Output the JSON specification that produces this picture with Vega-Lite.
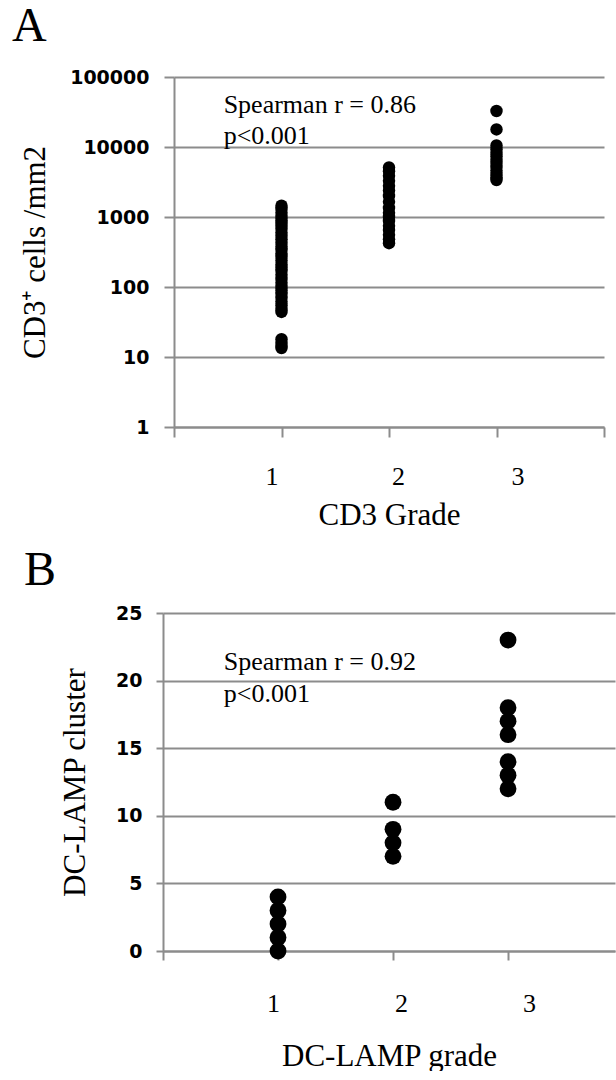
{
  "$schema": "https://vega.github.io/schema/vega-lite/v6.json",
  "background": "white",
  "padding": {"left": 12, "top": 3, "right": 0, "bottom": 0},
  "config": {
    "view": {"stroke": null},
    "axis": {
      "domainColor": "#8c8c8c", "domainWidth": 2,
      "tickColor": "#8c8c8c", "tickWidth": 2,
      "gridColor": "#8c8c8c", "gridWidth": 2,
      "labelColor": "black", "titleColor": "black",
      "labelOverlap": false, "labelFlush": false,
      "titleFont": "Liberation Serif", "titleFontWeight": "normal", "titleFontSize": 31
    }
  },
  "datasets": {
    "cd3": [
      {"grade": 1, "cells": 1450}, {"grade": 1, "cells": 1300}, {"grade": 1, "cells": 1150}, {"grade": 1, "cells": 1000},
      {"grade": 1, "cells": 900}, {"grade": 1, "cells": 820}, {"grade": 1, "cells": 750}, {"grade": 1, "cells": 680},
      {"grade": 1, "cells": 600}, {"grade": 1, "cells": 540}, {"grade": 1, "cells": 480}, {"grade": 1, "cells": 430},
      {"grade": 1, "cells": 380}, {"grade": 1, "cells": 340}, {"grade": 1, "cells": 300}, {"grade": 1, "cells": 270},
      {"grade": 1, "cells": 240}, {"grade": 1, "cells": 210}, {"grade": 1, "cells": 190}, {"grade": 1, "cells": 170},
      {"grade": 1, "cells": 150}, {"grade": 1, "cells": 130}, {"grade": 1, "cells": 115}, {"grade": 1, "cells": 100},
      {"grade": 1, "cells": 90}, {"grade": 1, "cells": 80}, {"grade": 1, "cells": 70}, {"grade": 1, "cells": 62},
      {"grade": 1, "cells": 55}, {"grade": 1, "cells": 49}, {"grade": 1, "cells": 44},
      {"grade": 1, "cells": 18}, {"grade": 1, "cells": 16}, {"grade": 1, "cells": 14.5}, {"grade": 1, "cells": 13.4},
      {"grade": 2, "cells": 5100}, {"grade": 2, "cells": 4500}, {"grade": 2, "cells": 3900}, {"grade": 2, "cells": 3300},
      {"grade": 2, "cells": 2800}, {"grade": 2, "cells": 2400}, {"grade": 2, "cells": 2000}, {"grade": 2, "cells": 1650},
      {"grade": 2, "cells": 1350}, {"grade": 2, "cells": 1150}, {"grade": 2, "cells": 1000}, {"grade": 2, "cells": 880},
      {"grade": 2, "cells": 750}, {"grade": 2, "cells": 650}, {"grade": 2, "cells": 560}, {"grade": 2, "cells": 480},
      {"grade": 2, "cells": 423},
      {"grade": 3, "cells": 32700}, {"grade": 3, "cells": 17800}, {"grade": 3, "cells": 10500}, {"grade": 3, "cells": 9300},
      {"grade": 3, "cells": 8300}, {"grade": 3, "cells": 7400}, {"grade": 3, "cells": 6600}, {"grade": 3, "cells": 5900},
      {"grade": 3, "cells": 5200}, {"grade": 3, "cells": 4600}, {"grade": 3, "cells": 4100}, {"grade": 3, "cells": 3700},
      {"grade": 3, "cells": 3380}
    ],
    "dclamp": [
      {"grade": 1, "cluster": 0}, {"grade": 1, "cluster": 1}, {"grade": 1, "cluster": 2}, {"grade": 1, "cluster": 3}, {"grade": 1, "cluster": 4},
      {"grade": 2, "cluster": 7}, {"grade": 2, "cluster": 8}, {"grade": 2, "cluster": 9}, {"grade": 2, "cluster": 11},
      {"grade": 3, "cluster": 12}, {"grade": 3, "cluster": 13}, {"grade": 3, "cluster": 14}, {"grade": 3, "cluster": 16},
      {"grade": 3, "cluster": 17}, {"grade": 3, "cluster": 18}, {"grade": 3, "cluster": 23}
    ]
  },
  "vconcat": [
    {
      "width": 430,
      "height": 350,
      "title": {"text": "A", "anchor": "start", "frame": "group", "font": "Liberation Serif", "fontSize": 48, "fontWeight": "normal", "color": "black", "baseline": "alphabetic", "dx": -162, "offset": -21},
      "layer": [
        {
          "data": {"name": "cd3"},
          "mark": {"type": "circle", "size": 155, "opacity": 1, "color": "black"},
          "encoding": {
            "x": {"field": "grade", "type": "quantitative", "scale": {"domain": [0, 4], "nice": false, "zero": false},
              "axis": {"values": [0, 1, 2, 3, 4], "format": "d", "labelExpr": "datum.value >= 1 && datum.value <= 3 ? datum.label : ''",
                "title": "CD3 Grade", "grid": false, "tickSize": 10, "labelPadding": 26,
                "labelFont": "Liberation Serif", "labelFontSize": 26, "titlePadding": 11,
                "labelOffset": {"condition": [{"test": "datum.value == 1", "value": -10}, {"test": "datum.value == 2", "value": 9}], "value": 21}}},
            "y": {"field": "cells", "type": "quantitative", "scale": {"type": "log", "domain": [1, 100000], "nice": false},
              "axis": {"values": [1, 10, 100, 1000, 10000, 100000], "format": "d", "title": "CD3⁺ cells /mm2",
                "grid": true, "tickSize": 10, "labelPadding": 15,
                "labelFont": "DejaVu Sans", "labelFontWeight": "bold", "labelFontSize": 19, "titlePadding": 18}}
          }
        },
        {
          "data": {"values": [{"gx": 0.462, "gy": 30900, "txt": "Spearman r = 0.86\np<0.001"}]},
          "mark": {"type": "text", "align": "left", "baseline": "alphabetic", "font": "Liberation Serif", "fontSize": 26, "lineBreak": "\n", "lineHeight": 31, "color": "black"},
          "encoding": {
            "x": {"field": "gx", "type": "quantitative"},
            "y": {"field": "gy", "type": "quantitative"},
            "text": {"field": "txt"}
          }
        }
      ]
    },
    {
      "width": 452,
      "height": 338,
      "title": {"text": "B", "anchor": "start", "frame": "group", "font": "Liberation Serif", "fontSize": 48, "fontWeight": "normal", "color": "black", "baseline": "alphabetic", "dx": -139, "offset": -29},
      "layer": [
        {
          "data": {"name": "dclamp"},
          "mark": {"type": "circle", "size": 283, "opacity": 1, "color": "black"},
          "encoding": {
            "x": {"field": "grade", "type": "quantitative", "scale": {"domain": [0, 3.93], "nice": false, "zero": false},
              "axis": {"values": [0, 1, 2, 3], "format": "d", "labelExpr": "datum.value >= 1 && datum.value <= 3 ? datum.label : ''",
                "title": "DC-LAMP grade", "grid": false, "tickSize": 9, "labelPadding": 30,
                "labelFont": "Liberation Serif", "labelFontSize": 26, "titlePadding": 25,
                "labelOffset": {"condition": [{"test": "datum.value == 1", "value": -5}, {"test": "datum.value == 2", "value": 8}], "value": 21}}},
            "y": {"field": "cluster", "type": "quantitative", "scale": {"domain": [0, 25], "nice": false},
              "axis": {"values": [0, 5, 10, 15, 20, 25], "title": "DC-LAMP cluster",
                "grid": true, "tickSize": 7, "labelPadding": 14,
                "labelFont": "DejaVu Sans", "labelFontWeight": "bold", "labelFontSize": 19, "titlePadding": 24}}
          }
        },
        {
          "data": {"values": [{"gx": 0.528, "gy": 20.78, "txt": "Spearman r = 0.92\np<0.001"}]},
          "mark": {"type": "text", "align": "left", "baseline": "alphabetic", "font": "Liberation Serif", "fontSize": 26, "lineBreak": "\n", "lineHeight": 32, "color": "black"},
          "encoding": {
            "x": {"field": "gx", "type": "quantitative"},
            "y": {"field": "gy", "type": "quantitative"},
            "text": {"field": "txt"}
          }
        }
      ]
    }
  ],
  "spacing": 186,
  "bounds": "flush",
  "center": true
}
